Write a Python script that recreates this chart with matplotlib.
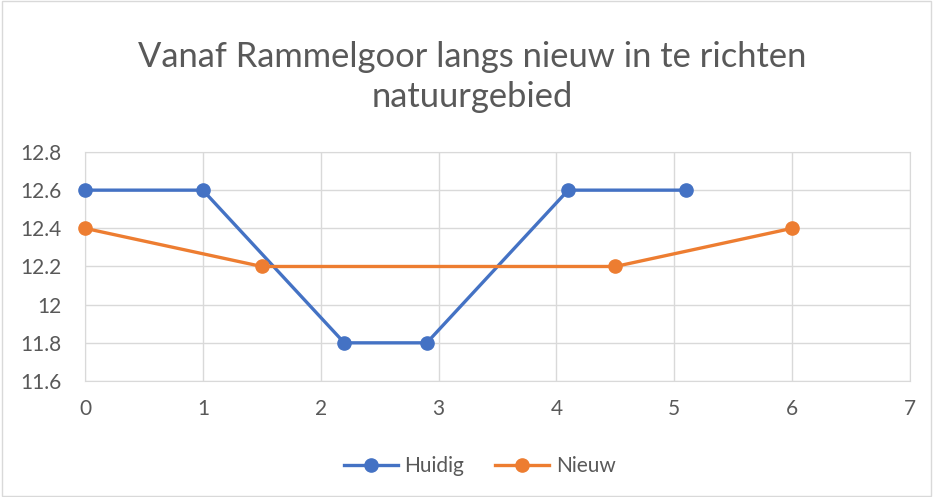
import matplotlib
matplotlib.use('Agg')
import matplotlib.pyplot as plt

plt.rcParams['font.family'] = ['Lato', 'DejaVu Sans']

# data
huidig_x = [0, 1, 2.2, 2.9, 4.1, 5.1]
huidig_y = [12.6, 12.6, 11.8, 11.8, 12.6, 12.6]
nieuw_x = [0, 1.5, 4.5, 6]
nieuw_y = [12.4, 12.2, 12.2, 12.4]
x_ticks = [0, 1, 2, 3, 4, 5, 6, 7]
y_ticks = [11.6, 11.8, 12.0, 12.2, 12.4, 12.6, 12.8]
y_labels = ['11.6', '11.8', '12', '12.2', '12.4', '12.6', '12.8']

txt = '#595959'
fig = plt.figure(figsize=[9.33, 4.97], dpi=100)
ax = fig.add_axes([0.0911, 0.2334, 0.8842, 0.4608])

ax.plot(huidig_x, huidig_y, color='#4472C4', lw=2.4, marker='o', ms=9.5,
        label='Huidig', zorder=3, clip_on=False)
ax.plot(nieuw_x, nieuw_y, color='#ED7D31', lw=2.4, marker='o', ms=9.5,
        label='Nieuw', zorder=3, clip_on=False)

ax.set_xlim(0, 7)
ax.set_ylim(11.6, 12.8)
ax.set_xticks(x_ticks)
ax.set_yticks(y_ticks)
ax.set_yticklabels(y_labels)
ax.grid(True, color='#d9d9d9', lw=1)
ax.set_axisbelow(True)
for s in ax.spines.values():
    s.set_color('#d9d9d9')
ax.tick_params(length=0, labelsize=15, colors=txt)
ax.tick_params(axis='x', pad=13)
ax.tick_params(axis='y', pad=17)

fig.text(0.506, 0.845, 'Vanaf Rammelgoor langs nieuw in te richten\nnatuurgebied',
         ha='center', va='center', fontsize=24.8, color=txt, linespacing=1.32)

ax.legend(loc='center', bbox_to_anchor=(0.514, 0.062), bbox_transform=fig.transFigure,
          ncol=2, frameon=False, fontsize=15, labelcolor=txt, handlelength=2.6,
          handletextpad=0.3, columnspacing=1.5)

fig.patches.append(plt.Rectangle((0.002, 0.002), 0.996, 0.996, transform=fig.transFigure,
                                 fill=False, edgecolor='#d9d9d9', lw=1))

plt.savefig('out.png', dpi=100)
